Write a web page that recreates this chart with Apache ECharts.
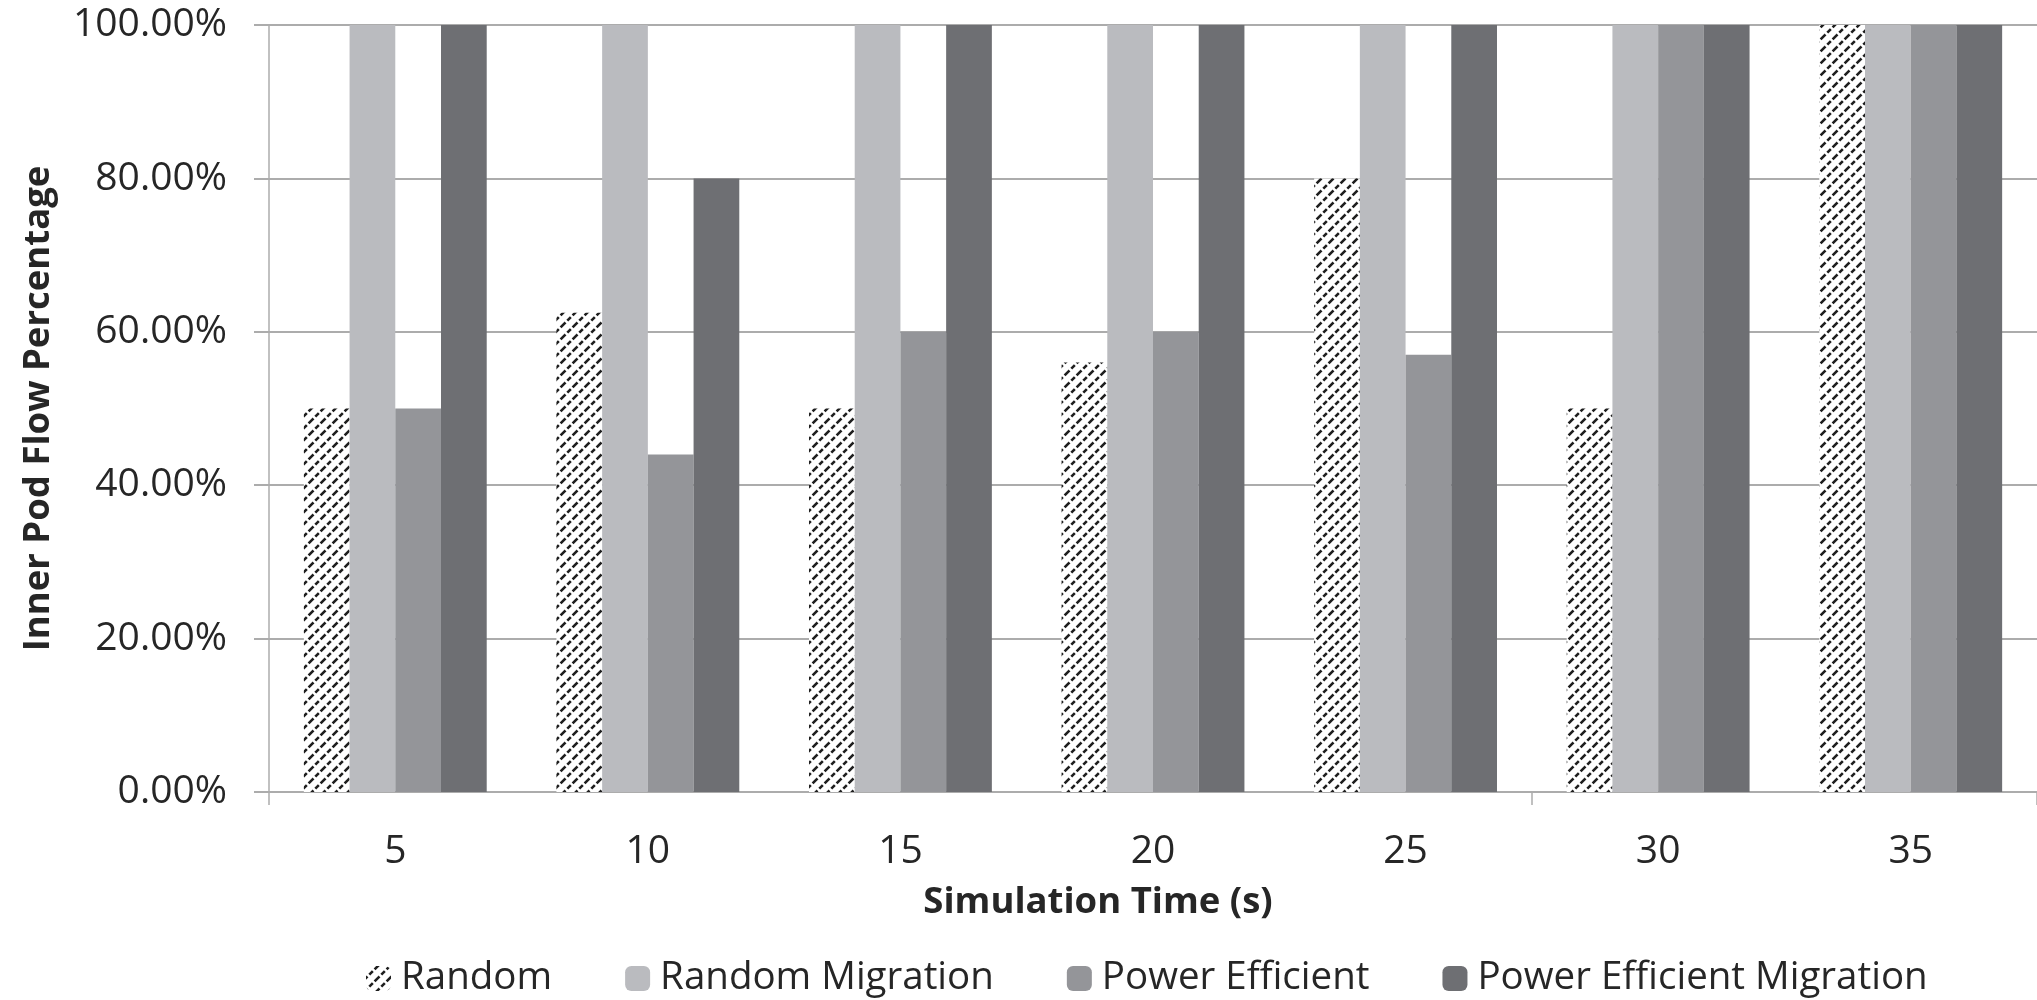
<!DOCTYPE html>
<html>
<head>
<meta charset="utf-8">
<script src="https://cdn.jsdelivr.net/npm/echarts@6/dist/echarts.min.js"></script>
<style>
html,body{margin:0;padding:0;background:#fff;}
#chart{width:2037px;height:1000px;}
</style>
</head>
<body>
<div id="chart"></div>
<script>
const categories = ['5', '10', '15', '20', '25', '30', '35'];
const seriesNames = ['Random', 'Random Migration', 'Power Efficient', 'Power Efficient Migration'];
const randomValues = [50, 62.5, 50, 56, 80, 50, 100];
const randomMigrationValues = [100, 100, 100, 100, 100, 100, 100];
const powerEfficientValues = [50, 44, 60, 60, 57, 100, 100];
const powerEfficientMigrationValues = [100, 80, 100, 100, 100, 100, 100];
const yTicks = [0, 20, 40, 60, 80, 100];

// hatch pattern for "Random"
const tile = document.createElement('canvas');
tile.width = 12; tile.height = 12;
const c = tile.getContext('2d');
c.fillStyle = '#ffffff';
c.fillRect(0, 0, 12, 12);
c.strokeStyle = '#1e1e1e';
c.lineWidth = 2.6;
c.setLineDash([5, 2.5]);
c.beginPath();
c.moveTo(-2, 14); c.lineTo(14, -2);
c.moveTo(-8, 8); c.lineTo(8, -8);
c.moveTo(4, 20); c.lineTo(20, 4);
c.stroke();
const hatch = { image: tile, repeat: 'repeat' };

const font = 'Open Sans';
const textColor = '#262626';
const lineColor = '#acacac';

const chart = echarts.init(document.getElementById('chart'), null, { renderer: 'canvas' });
const mk = (name, data, color) => ({
  name, type: 'bar', data,
  barGap: '0%', barCategoryGap: '27.6%',
  itemStyle: { color },
  emphasis: { disabled: true }
});
chart.setOption({
  animation: false,
  backgroundColor: '#ffffff',
  textStyle: { fontFamily: font },
  grid: { left: 269, top: 25, width: 1770, height: 767, containLabel: false },
  legend: {
    left: 361, top: 954,
    itemWidth: 25, itemHeight: 25, itemGap: 73,
    textStyle: { fontFamily: font, fontSize: 38.5, color: textColor, padding: [0, 0, 0, 5] },
    data: seriesNames
  },
  xAxis: {
    type: 'category', data: categories,
    name: 'Simulation Time (s)', nameLocation: 'middle', nameGap: 92,
    nameTextStyle: { fontFamily: font, fontSize: 36.5, fontWeight: 'bold', color: textColor, padding: [0, 110, 0, 0] },
    axisLine: { show: true, lineStyle: { color: lineColor, width: 2 } },
    axisTick: { show: true, length: 13, interval: (i) => i === 0 || i === 5, lineStyle: { color: lineColor, width: 1.5 } },
    axisLabel: { fontFamily: font, fontSize: 39, color: textColor, margin: 40 }
  },
  yAxis: {
    type: 'value', min: yTicks[0], max: yTicks[yTicks.length - 1], interval: 20,
    name: 'Inner Pod Flow Percentage', nameLocation: 'middle', nameGap: 212,
    nameTextStyle: { fontFamily: font, fontSize: 36.5, fontWeight: 'bold', color: textColor },
    axisLine: { show: true, lineStyle: { color: lineColor, width: 1.5 } },
    axisTick: { show: true, length: 15, lineStyle: { color: lineColor, width: 2 } },
    splitLine: { show: true, lineStyle: { color: lineColor, width: 2 } },
    axisLabel: { fontFamily: font, fontSize: 39, color: textColor, margin: 42,
      formatter: (v) => v.toFixed(2) + '%' }
  },
  series: [
    mk(seriesNames[0], randomValues, hatch),
    mk(seriesNames[1], randomMigrationValues, '#babbbf'),
    mk(seriesNames[2], powerEfficientValues, '#949599'),
    mk(seriesNames[3], powerEfficientMigrationValues, '#6e6f73')
  ]
});
</script>
</body>
</html>
